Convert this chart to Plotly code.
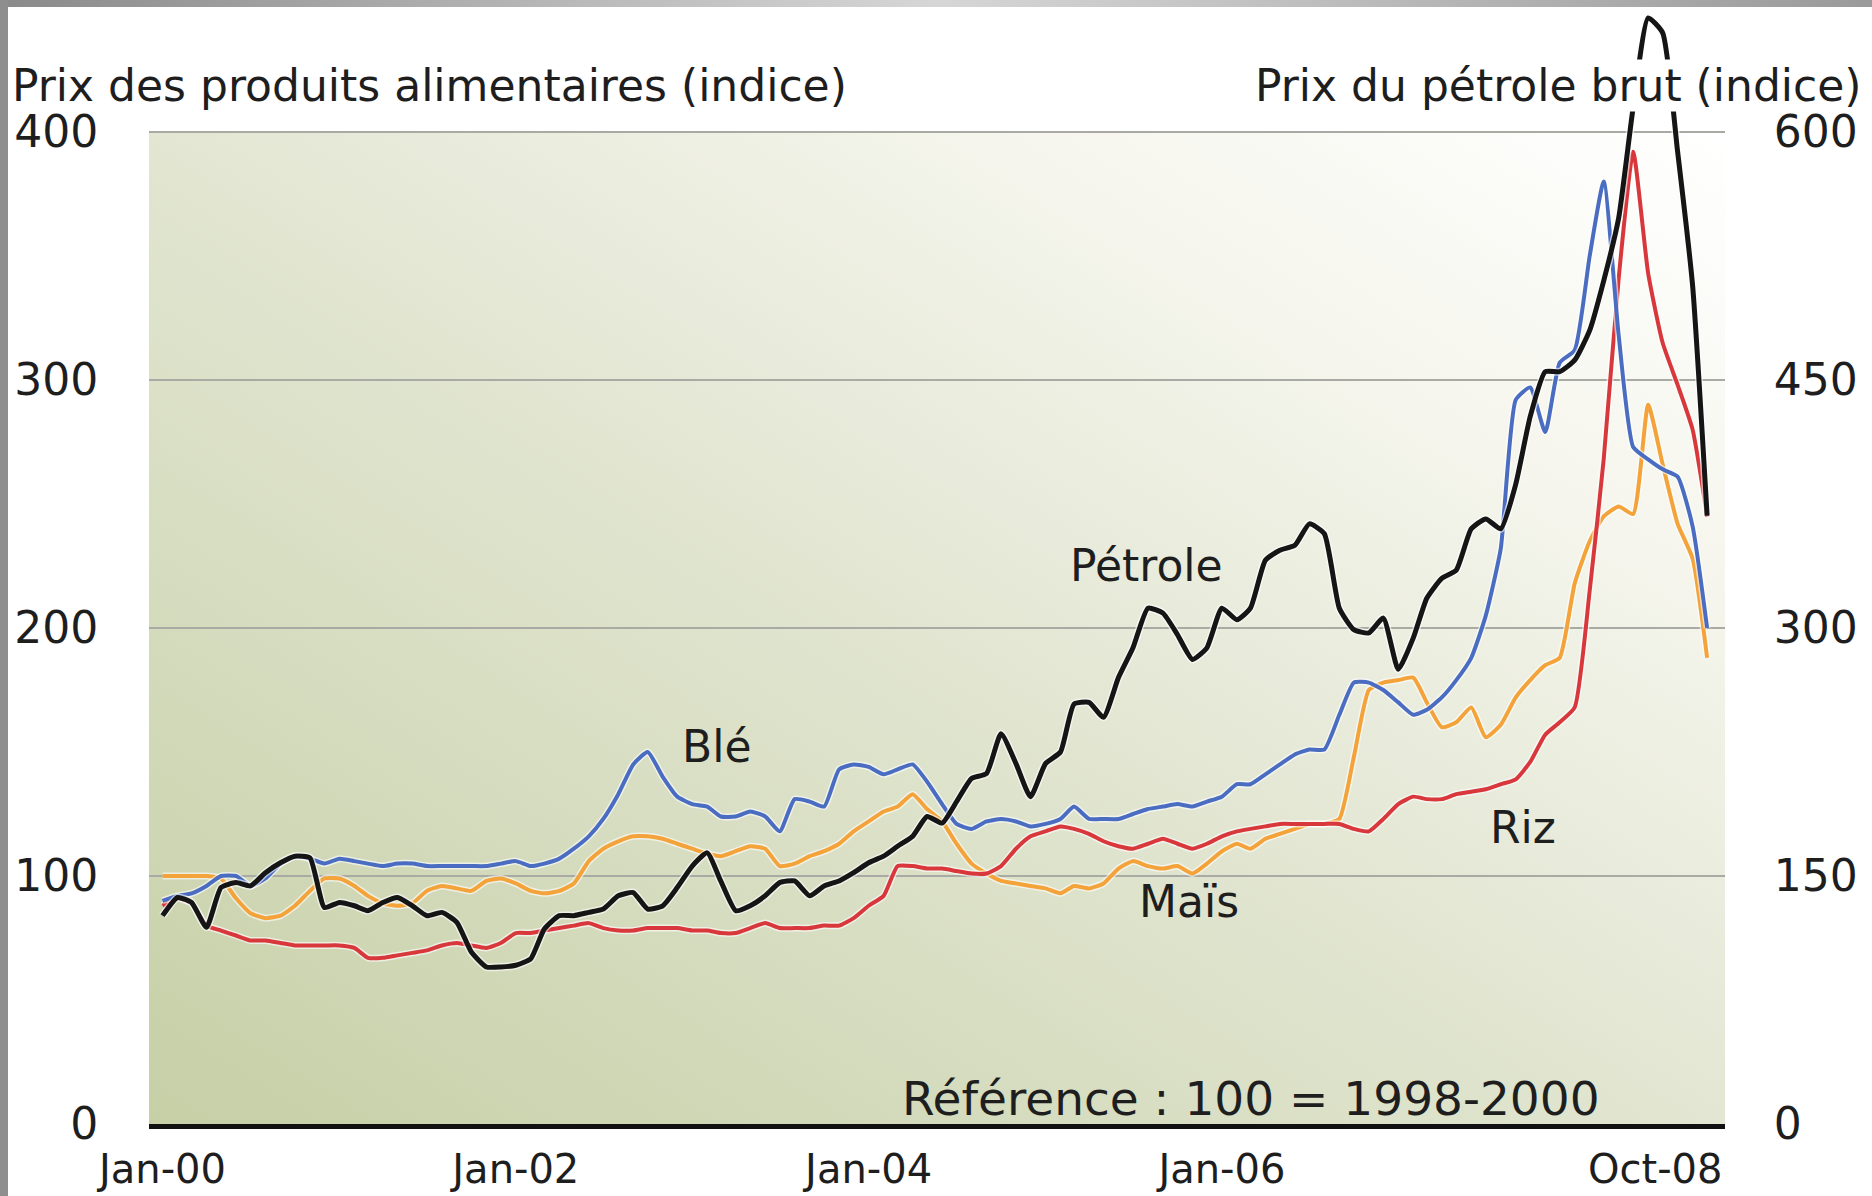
import base64

import pandas as pd
import plotly.graph_objects as go

# monthly series, Jan 2000 -> Oct 2008
months = pd.date_range("2000-01-01", "2008-10-01", freq="MS")

# crude oil index (right axis)
petrole = [
    126, 137, 134, 119, 143, 146, 144, 152, 158, 162, 161, 131,
    134, 132, 129, 134, 137, 132, 126, 128, 122, 104, 95, 95,
    96, 100, 118, 126, 126, 128, 130, 138, 140, 130, 132, 143,
    156, 164, 147, 129, 132, 138, 146, 147, 138, 144, 147, 152,
    158, 162, 168, 174, 186, 182, 195, 209, 212, 236, 218, 198,
    218, 225, 254, 255, 246, 270, 288, 312, 309, 296, 281, 288,
    312, 305, 312, 341, 347, 350, 363, 357, 312, 299, 297, 306,
    275, 294, 318, 330, 335, 360, 366, 360, 387, 428, 455, 455,
    462, 480, 510, 548, 615, 669, 660, 588, 507, 368,
]

# food price indices (left axis)
ble = [
    90, 92, 93, 96, 100, 100, 96, 99, 105, 108, 107, 105,
    107, 106, 105, 104, 105, 105, 104, 104, 104, 104, 104, 105,
    106, 104, 105, 107, 111, 116, 123, 133, 145, 150, 140, 132,
    129, 128, 124, 124, 126, 124, 118, 131, 130, 128, 143, 145,
    144, 141, 143, 145, 138, 129, 121, 119, 122, 123, 122, 120,
    121, 123, 128, 123, 123, 123, 125, 127, 128, 129, 128, 130,
    132, 137, 137, 141, 145, 149, 151, 151, 165, 178, 178, 175,
    170, 165, 167, 172, 179, 188, 205, 232, 292, 297, 279, 307,
    312, 350, 380, 318, 273, 268, 264, 261, 241, 200,
]

mais = [
    100, 100, 100, 100, 99, 91, 85, 83, 84, 88, 94, 99,
    99, 96, 92, 89, 88, 89, 94, 96, 95, 94, 98, 99,
    97, 94, 93, 94, 97, 106, 111, 114, 116, 116, 115, 113,
    111, 109, 108, 110, 112, 111, 104, 105, 108, 110, 113, 118,
    122, 126, 128, 133, 127, 122, 113, 105, 101, 98, 97, 96,
    95, 93, 96, 95, 97, 103, 106, 104, 103, 104, 101, 105,
    110, 113, 111, 115, 117, 119, 121, 121, 123, 148, 175, 178,
    179, 180, 170, 160, 162, 168, 156, 161, 172, 179, 185, 188,
    218, 235, 245, 249, 246, 290, 266, 242, 228, 188,
]

riz = [
    88, 91, 89, 80, 78, 76, 74, 74, 73, 72, 72, 72,
    72, 71, 67, 67, 68, 69, 70, 72, 73, 72, 71, 73,
    77, 77, 78, 79, 80, 81, 79, 78, 78, 79, 79, 79,
    78, 78, 77, 77, 79, 81, 79, 79, 79, 80, 80, 83,
    88, 92, 104, 104, 103, 103, 102, 101, 101, 104, 111, 116,
    118, 120, 119, 117, 114, 112, 111, 113, 115, 113, 111, 113,
    116, 118, 119, 120, 121, 121, 121, 121, 121, 119, 118, 123,
    129, 132, 131, 131, 133, 134, 135, 137, 139, 146, 157, 162,
    168, 215, 268, 341, 392, 343, 315, 298, 280, 245,
]

left_ticks = [0, 100, 200, 300, 400]
right_ticks = [0, 150, 300, 450, 600]
x_ticks = ["2000-01-01", "2002-01-01", "2004-01-01", "2006-01-01"]
x_labels = ["Jan-00", "Jan-02", "Jan-04", "Jan-06"]

FONT = "DejaVu Sans"
INK = "#1e1e1e"
W, H = 1872, 1196
L, R, T, B = 149, 147, 10, 72
PW, PH = W - L - R, H - T - B
YMAX = 449.2  # left scale top (plot extends above the 400 grid line)


def px_x(px):
    return (px - L) / PW


def px_y(py):
    return (H - B - py) / PH


def svg_uri(svg):
    return "data:image/svg+xml;base64," + base64.b64encode(svg.encode()).decode()


bg_svg = (
    '<svg xmlns="http://www.w3.org/2000/svg" width="400" height="250" '
    'viewBox="0 0 400 250" preserveAspectRatio="none">'
    '<defs><linearGradient id="g" x1="0" y1="1" x2="1" y2="0">'
    '<stop offset="0" stop-color="#c6cfa6"/>'
    '<stop offset="0.5" stop-color="#e2e6d2"/>'
    '<stop offset="0.78" stop-color="#f6f6ee"/>'
    '<stop offset="1" stop-color="#ffffff"/>'
    '</linearGradient></defs>'
    '<rect width="400" height="250" fill="url(#g)"/></svg>'
)

top_svg = (
    '<svg xmlns="http://www.w3.org/2000/svg" width="400" height="10" '
    'viewBox="0 0 400 10" preserveAspectRatio="none">'
    '<defs><linearGradient id="t" x1="0" y1="0" x2="1" y2="0">'
    '<stop offset="0" stop-color="#8a8a8a"/>'
    '<stop offset="0.5" stop-color="#d6d6d6"/>'
    '<stop offset="1" stop-color="#9a9a9a"/>'
    '</linearGradient></defs>'
    '<rect width="400" height="10" fill="url(#t)"/></svg>'
)

fig = go.Figure()

series = [
    ("Maïs", mais, "#f3a33a", 4, "y"),
    ("Riz", riz, "#d8383c", 4, "y"),
    ("Blé", ble, "#4a6dc2", 4, "y"),
    ("Pétrole", petrole, "#151515", 5, "y2"),
]

for name, vals, color, width, axis in series:
    # pale halo under each line, as in the original artwork
    fig.add_trace(go.Scatter(
        x=months, y=vals, yaxis=axis, mode="lines", hoverinfo="skip",
        line=dict(color="rgba(255,255,255,0.6)", width=width + 3,
                  shape="spline", smoothing=0.5),
        showlegend=False,
    ))
    fig.add_trace(go.Scatter(
        x=months, y=vals, yaxis=axis, mode="lines", name=name,
        line=dict(color=color, width=width, shape="spline", smoothing=0.5),
        showlegend=False,
    ))

annotations = [
    dict(text="Prix des produits alimentaires (indice)", x=px_x(10), y=px_y(86),
         xanchor="left"),
    dict(text="Prix du pétrole brut (indice)", x=px_x(1862), y=px_y(86),
         xanchor="right", bgcolor="#ffffff", borderpad=0),
    dict(text="Blé", x=px_x(716), y=px_y(747)),
    dict(text="Pétrole", x=px_x(1146), y=px_y(565)),
    dict(text="Riz", x=px_x(1523), y=px_y(827)),
    dict(text="Maïs", x=px_x(1189), y=px_y(901)),
    dict(text="Référence : 100 = 1998-2000", x=px_x(1251), y=px_y(1098), size=47),
]
for a in annotations:
    a.setdefault("xanchor", "center")
    size = a.pop("size", 44)
    fig.add_annotation(xref="paper", yref="paper", yanchor="middle", showarrow=False,
                       font=dict(family=FONT, size=size, color=INK), **a)

# last x label sits flush against the right end of the axis
fig.add_annotation(text="Oct-08", xref="paper", x=1, xanchor="right",
                   yref="paper", y=px_y(1169), yanchor="middle", showarrow=False,
                   font=dict(family=FONT, size=40, color=INK))

fig.add_layout_image(dict(
    source=svg_uri(bg_svg), xref="paper", yref="y", x=0, y=400,
    sizex=1, sizey=400, xanchor="left", yanchor="top",
    sizing="stretch", layer="below",
))
fig.add_layout_image(dict(
    source=svg_uri(top_svg), xref="paper", yref="paper", x=px_x(0), y=px_y(0),
    sizex=px_x(W) - px_x(0), sizey=px_y(0) - px_y(7), xanchor="left", yanchor="top",
    sizing="stretch", layer="above",
))
fig.add_shape(type="rect", xref="paper", yref="paper", x0=px_x(0), x1=px_x(8),
              y0=px_y(H), y1=px_y(0), fillcolor="#8e8e8e", line_width=0, layer="above")

fig.update_layout(
    width=W, height=H,
    margin=dict(l=L, r=R, t=T, b=B, pad=0, autoexpand=False),
    paper_bgcolor="#ffffff",
    plot_bgcolor="rgba(0,0,0,0)",
    xaxis=dict(
        type="date", range=["1999-12-04", "2008-11-07"],
        tickvals=x_ticks, ticktext=x_labels, automargin=False,
        showgrid=False, zeroline=False,
        showline=True, linecolor="#111111", linewidth=5,
        ticks="outside", ticklen=6, tickcolor="rgba(0,0,0,0)",
        tickfont=dict(family=FONT, size=40, color=INK),
    ),
    yaxis=dict(
        range=[0, YMAX], tickvals=left_ticks, automargin=False,
        showgrid=True, gridcolor="#a9aaa3", gridwidth=2, zeroline=False,
        ticks="outside", ticklen=41, tickcolor="rgba(0,0,0,0)",
        tickfont=dict(family=FONT, size=44, color=INK),
    ),
    yaxis2=dict(
        overlaying="y", side="right", range=[0, YMAX * 1.5], tickvals=right_ticks,
        automargin=False, showgrid=False, zeroline=False,
        ticks="outside", ticklen=39, tickcolor="rgba(0,0,0,0)",
        tickfont=dict(family=FONT, size=44, color=INK),
    ),
)

# the page body has a default 8px margin; drop it so the figure fills the window
fig.write_html("out.html", config={"displayModeBar": False},
               post_script="document.body.style.margin = '0';")
